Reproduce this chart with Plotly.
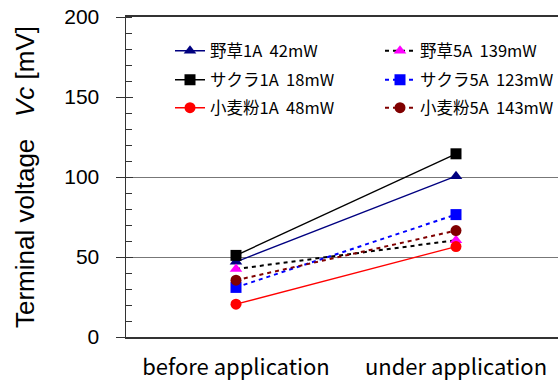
import plotly.graph_objects as go

categories = ["before application", "under application"]
cat_pos = [0, 1]

names = ["野草1A\u00a0\u00a042mW", "野草5A\u00a0\u00a0139mW",
         "サクラ1A\u00a0\u00a018mW", "サクラ5A\u00a0\u00a0123mW",
         "小麦粉1A\u00a0\u00a048mW", "小麦粉5A\u00a0\u00a0143mW"]
yasou_1a = [47, 100.5]
yasou_5a = [42.5, 60.5]
sakura_1a = [51, 114.5]
sakura_5a = [31, 76.5]
komugi_1a = [20.5, 56.5]
komugi_5a = [35.5, 66.5]
yticks = [0, 50, 100, 150, 200]
grid_vals = [50, 100, 200]

series = [yasou_1a, yasou_5a, sakura_1a, sakura_5a, komugi_1a, komugi_5a]
line_colors = ["#000080", "#000000", "#000000", "#0000FF", "#FF0000", "#800000"]
marker_colors = ["#000080", "#FF00FF", "#000000", "#0000FF", "#FF0000", "#800000"]
symbols = ["triangle-up", "triangle-up", "square", "square", "circle", "circle"]
dashes = ["solid", "4px,4px", "solid", "4px,4px", "solid", "4px,4px"]
widths = [1.3, 2, 1.3, 2, 1.3, 2]
legend_ids = ["legend", "legend2", "legend3", "legend4", "legend5", "legend6"]
# all y axes share the same 0-200 range; spreading traces over them makes
# plotly draw each overlay axis (inside major ticks, gridlines)
yaxis_ids = ["y", "y", "y2", "y2", "y3", "y3"]

fig = go.Figure()
for i in range(6):
    fig.add_trace(go.Scatter(
        x=cat_pos, y=series[i], name=names[i], mode="lines+markers",
        line=dict(color=line_colors[i], width=widths[i], dash=dashes[i]),
        marker=dict(symbol=symbols[i], size=11, color=marker_colors[i]),
        legend=legend_ids[i], yaxis=yaxis_ids[i]))

W, H = 558, 387
ml, mr, mt, mb = 126, 0, 17, 50
pw, ph = W - ml - mr, H - mt - mb

def px_x(px):
    return (px - ml) / pw

def px_y(py):
    return (mt + ph - py) / ph

legfont = dict(family="Noto Sans CJK JP", size=16.5, color="black")
leg_common = dict(orientation="v", xanchor="left", yanchor="middle",
                  font=legfont, bgcolor="rgba(0,0,0,0)", borderwidth=0,
                  itemwidth=30)
col_px = [170, 380]
row_px = [51, 80, 108]
legends = {}
for i, lid in enumerate(legend_ids):
    legends[lid] = dict(x=px_x(col_px[i % 2]), y=px_y(row_px[i // 2]), **leg_common)

# x range so that categories sit at reference pixels 236 and 456
x_left = -(236 - 126) / 220
x_right = x_left + pw / 220

fig.update_layout(
    width=W, height=H,
    margin=dict(l=ml, r=mr, t=mt, b=mb, autoexpand=False),
    paper_bgcolor="white", plot_bgcolor="white",
    showlegend=True,
    xaxis=dict(range=[x_left, x_right], tickvals=cat_pos, ticktext=categories,
               showline=True, mirror=True, linecolor="#333", linewidth=2, ticks="",
               showgrid=False, zeroline=False, ticklabelstandoff=10,
               tickfont=dict(family="Noto Sans CJK JP", size=22, color="black")),
    yaxis=dict(range=[0, 200], tickvals=yticks, ticks="outside", ticklen=9,
               tickcolor="#333", tickwidth=1, showline=True, linecolor="#333",
               linewidth=1.5, showgrid=False, ticklabeloverflow="allow",
               zeroline=False, ticklabelstandoff=12,
               minor=dict(dtick=10, ticks="inside", ticklen=6, tickcolor="#333"),
               tickfont=dict(family="Liberation Sans", size=21, color="black"),
               title=dict(text="Terminal voltage\u00a0\u00a0\u00a0<i>Vc</i>\u00a0[mV]",
                          font=dict(family="Liberation Sans", size=26, color="black"),
                          standoff=22)),
    yaxis2=dict(range=[0, 200], overlaying="y", side="left", tickvals=yticks,
                ticks="inside", ticklen=7, tickcolor="#333", showticklabels=False,
                showgrid=False, zeroline=False, showline=False),
    yaxis3=dict(range=[0, 200], overlaying="y", side="left", tickvals=grid_vals,
                ticks="", showticklabels=False, showgrid=True, gridcolor="#777",
                gridwidth=1, zeroline=False, showline=False),
    **legends,
)

# remove the default 8px page margin and scrollbars so the figure fills the window
page_js = ("document.body.style.margin='0';"
           "document.body.style.overflow='hidden';"
           "document.documentElement.style.overflow='hidden';")
fig.write_html("out.html", post_script=page_js,
               config={"displayModeBar": False, "staticPlot": True})
